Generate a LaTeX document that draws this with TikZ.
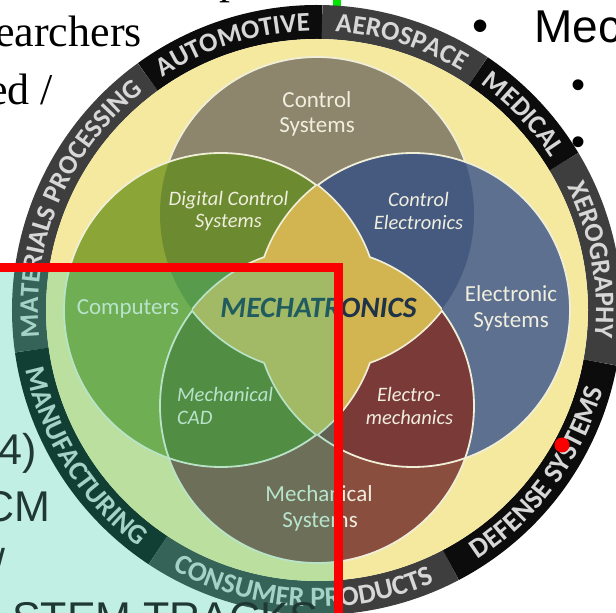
\documentclass[tikz,border=0pt]{standalone}
\usepackage{fontspec}
\setmainfont{Liberation Serif}
\newfontfamily\arialf{Liberation Sans}
\newfontfamily\labf{Carlito}
\usetikzlibrary{decorations.text}
\definecolor{ctrlc}{RGB}{141,134,108}
\definecolor{compc}{RGB}{140,165,55}
\definecolor{elecc}{RGB}{93,112,143}
\definecolor{mechc}{RGB}{138,78,63}
\definecolor{dcsc}{RGB}{108,138,48}
\definecolor{cec}{RGB}{70,90,128}
\definecolor{mcadc}{RGB}{100,120,35}
\definecolor{emc}{RGB}{122,58,56}
\definecolor{goldc}{RGB}{210,180,80}
\definecolor{bandc}{RGB}{245,233,160}
\definecolor{ringg}{RGB}{62,62,62}
\definecolor{ringk}{RGB}{12,12,12}
\definecolor{ringtxt}{RGB}{215,215,215}
\definecolor{linec}{RGB}{240,238,215}
\definecolor{labc}{RGB}{240,238,222}
\definecolor{navyc}{RGB}{30,50,72}
\definecolor{mintc}{RGB}{36,200,157}
\definecolor{boxtxt}{RGB}{32,56,50}
\definecolor{slgreen}{RGB}{0,230,0}
\definecolor{redc}{RGB}{250,0,0}
\tikzset{
  wline/.style={draw=linec, line width=1.8pt},
  lab/.style={inner sep=0pt, anchor=base, text=labc, font=\labf\fontsize{23}{23}\selectfont},
  labi/.style={lab, font=\labf\itshape\fontsize{20.5}{20.5}\selectfont},
  slide/.style={inner sep=0pt, font=\fontsize{44}{44}\selectfont},
  boxt/.style={inner sep=0pt, text=boxtxt, font=\arialf\fontsize{43}{43}\selectfont},
  bul/.style={inner sep=0pt, font=\arialf\fontsize{46}{46}\selectfont},
  topring/.style={decorate, decoration={text along path, text align=center,
     text={|\labf\bfseries\fontsize{27}{27}\selectfont\color{ringtxt}|#1}}},
  botring/.style={decorate, decoration={text along path, text align=center,
     text={|\labf\bfseries\fontsize{28}{28}\selectfont\color{ringtxt}|#1}}}
}
\begin{document}
\begin{tikzpicture}[x=1pt,y=1pt]
\useasboundingbox (0,0) rectangle (616,613);
\clip (0,0) rectangle (616,613);
\fill[white] (0,0) rectangle (616,613);
% slide texts behind the diagram
\node[slide, anchor=base east] (t1) at (142,566) {earchers};
\node[slide, anchor=base east] (t2) at (53,508) {ed /};
\node[slide, anchor=base west] (t0) at (219,619) {p};
\fill[slgreen] (333,604) rectangle (341,613);
\node[bul] (b1) at (481,582) {•};
\node[bul, anchor=base west] (t3) at (534,570) {Mechatronics};
\node[bul, font=\arialf\fontsize{40}{40}\selectfont] (b2) at (578,524) {•};
\node[bul, font=\arialf\fontsize{40}{40}\selectfont] (b3) at (578,467) {•};
% diagram
\coordinate (O) at (317,303);
\coordinate (cT) at (317,399);
\coordinate (cL) at (221,303);
\coordinate (cR) at (413,303);
\coordinate (cB) at (317,207);
\foreach \a/\b/\c in {89/126/ringk,126/188/ringg,188/236.5/ringk,236.5/297.7/ringg,297.7/349.5/ringk,349.5/391/ringg,391/416/ringk,416/449/ringg}{
  \draw[\c, line width=34pt] ([shift={(\a:288)}]O) arc[start angle=\a, end angle=\b, radius=288];
}
\fill[bandc] (O) circle[radius=271];
% circles
\fill[ctrlc] (cT) circle[radius=157];
\draw[wline] (cT) circle[radius=157];
\fill[compc] (cL) circle[radius=157];
\fill[elecc] (cR) circle[radius=157];
\fill[mechc] (cB) circle[radius=157];
\begin{scope}
  \clip (cT) circle[radius=157];
  \fill[dcsc] (cL) circle[radius=157];
  \fill[cec] (cR) circle[radius=157];
\end{scope}
\begin{scope}
  \clip (cB) circle[radius=157];
  \fill[mcadc] (cL) circle[radius=157];
  \fill[emc] (cR) circle[radius=157];
\end{scope}
\draw[wline] (cL) circle[radius=157];
\draw[wline] (cR) circle[radius=157];
\draw[wline] (cB) circle[radius=157];
% centre region outlines
\begin{scope}
  \clip (cL) circle[radius=157];
  \draw[wline, line width=3.6pt] (cR) circle[radius=157];
\end{scope}
\begin{scope}
  \clip (cR) circle[radius=157];
  \draw[wline, line width=3.6pt] (cL) circle[radius=157];
\end{scope}
\begin{scope}
  \clip (cT) circle[radius=157];
  \draw[wline, line width=3.6pt] (cB) circle[radius=157];
\end{scope}
\begin{scope}
  \clip (cB) circle[radius=157];
  \draw[wline, line width=3.6pt] (cT) circle[radius=157];
\end{scope}
\begin{scope}
  \clip (cL) circle[radius=157];
  \fill[goldc] (cR) circle[radius=157];
\end{scope}
\begin{scope}
  \clip (cT) circle[radius=157];
  \fill[goldc] (cB) circle[radius=157];
\end{scope}
% ring texts
\path[topring={AUTOMOTIVE}] ([shift={(126:279)}]O) arc[start angle=126, end angle=89, radius=279];
\path[topring={MATERIALS PROCESSING}] ([shift={(188:279)}]O) arc[start angle=188, end angle=126, radius=279];
\path[topring={AEROSPACE}] ([shift={(89:279)}]O) arc[start angle=89, end angle=56, radius=279];
\path[topring={MEDICAL}] ([shift={(56:279)}]O) arc[start angle=56, end angle=31, radius=279];
\path[topring={XEROGRAPHY}] ([shift={(31:279)}]O) arc[start angle=31, end angle=-10.5, radius=279];
\path[botring={MANUFACTURING}] ([shift={(188:297)}]O) arc[start angle=188, end angle=236.5, radius=297];
\path[botring={CONSUMER PRODUCTS}] ([shift={(236.5:297)}]O) arc[start angle=236.5, end angle=297.7, radius=297];
\path[botring={DEFENSE SYSTEMS}] ([shift={(297.7:297)}]O) arc[start angle=297.7, end angle=349.5, radius=297];
% labels
\node[lab] (cs1) at (317,505) {Control};
\node[lab] (cs2) at (317,480) {Systems};
\node[labi] (dc1) at (228.5,407) {Digital Control};
\node[labi] (dc2) at (228.5,385) {Systems};
\node[labi] (ce1) at (418.5,406) {Control};
\node[labi] (ce2) at (418.5,383) {Electronics};
\node[lab, text=navyc, font=\labf\bfseries\itshape\fontsize{29.5}{29.5}\selectfont] (mx) at (318.5,295) {MECHATRONICS};
\node[lab] (co) at (128,298) {Computers};
\node[lab] (es1) at (511,311) {Electronic};
\node[lab] (es2) at (511,285) {Systems};
\node[labi, anchor=base west] (mc1) at (177,211) {Mechanical};
\node[labi, anchor=base west] (mc2) at (177,188) {CAD};
\node[labi] (em1) at (409,211) {Electro-};
\node[labi] (em2) at (409.5,188) {mechanics};
\node[lab] (ms1) at (319,111) {Mechanical};
\node[lab] (ms2) at (320,85) {Systems};
% overlay box
\fill[mintc, fill opacity=0.274] (-10,-10) rectangle (338.5,345);
\node[boxt, anchor=base east] (x1) at (37,148) {4)};
\node[boxt, anchor=base east] (x2) at (51,91) {CM};
\node[boxt, anchor=base east] (x3) at (6,33) {/};
\node[boxt, anchor=base west] (x4) at (12,-20) {STEM TRACKS};
\draw[redc, line width=9pt] (-20,345) -- (338.5,345) -- (338.5,-20);
\fill[redc] (562,168) circle[radius=7.5];
\end{tikzpicture}
\end{document}
